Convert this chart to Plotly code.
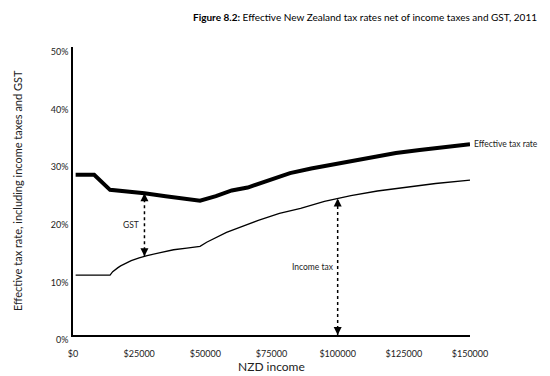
import numpy as np
import plotly.graph_objects as go

# ---- data ----
eff_income = [1000, 8000, 14000, 20000, 27000, 35000, 48000, 54000, 60000, 66000, 70000,
              76000, 82000, 90000, 97000, 105000, 112000, 122000, 131000, 140000, 150000]
eff_rate = [27.8, 27.8, 25.2, 25.0, 24.6, 24.1, 23.3, 24.1, 25.1, 25.6, 26.2,
            27.2, 28.1, 28.9, 29.5, 30.2, 30.9, 31.6, 32.1, 32.6, 33.1]

inc_income = [1000, 14000, 15000, 16000, 17000, 18000, 20000, 22000, 25000, 28000, 33000,
              38000, 43000, 48000, 50500, 53000, 58000, 63000, 70000, 78000, 86000, 95000,
              105000, 115000, 125000, 137000, 150000]
inc_rate = [10.4, 10.4, 11.0, 11.4, 11.7, 12.0, 12.5, 12.9, 13.4, 13.8, 14.3,
            14.8, 15.1, 15.4, 16.1, 16.7, 17.8, 18.7, 19.9, 21.1, 22.0, 23.2,
            24.2, 25.0, 25.6, 26.3, 26.9]

x_tickvals = [0, 25000, 50000, 75000, 100000, 125000, 150000]
x_ticktext = ["$0", "$25000", "$50000", "$75000", "$100000", "$125000", "$150000"]
y_tickvals = [0, 10, 20, 30, 40, 50]
y_ticktext = ["0%", "10%", "20%", "30%", "40%", "50%"]

gst_arrow_income = 27000
inc_arrow_income = 100000

FONT = "Lato"

fig = go.Figure()
fig.add_trace(go.Scatter(x=inc_income, y=inc_rate, mode="lines",
                         line=dict(color="black", width=1.3), showlegend=False))
fig.add_trace(go.Scatter(x=eff_income, y=eff_rate, mode="lines",
                         line=dict(color="black", width=4), showlegend=False))

# arrows derived from series
g_top = float(np.interp(gst_arrow_income, eff_income, eff_rate))
g_bot = float(np.interp(gst_arrow_income, inc_income, inc_rate))
i_top = float(np.interp(inc_arrow_income, inc_income, inc_rate))
i_bot = 0.0

for xv, top, bot in [(gst_arrow_income, g_top, g_bot), (inc_arrow_income, i_top, i_bot)]:
    fig.add_trace(go.Scatter(x=[xv, xv], y=[bot, top], mode="lines",
                             line=dict(color="black", width=1.5, dash="dot"),
                             showlegend=False))
    fig.add_annotation(x=xv, y=top, ax=0, ay=8, axref="pixel", ayref="pixel",
                       showarrow=True, arrowhead=2, arrowsize=1.6, arrowwidth=1,
                       arrowcolor="black", text="")
    fig.add_annotation(x=xv, y=bot, ax=0, ay=-8, axref="pixel", ayref="pixel",
                       showarrow=True, arrowhead=2, arrowsize=1.6, arrowwidth=1,
                       arrowcolor="black", text="")

fig.add_annotation(x=gst_arrow_income, y=(g_top + g_bot) / 2, text="GST", showarrow=False,
                   xanchor="right", xshift=-3, font=dict(family=FONT, size=8.5, color="#222"))
fig.add_annotation(x=inc_arrow_income, y=(i_top + i_bot) / 2, text="Income tax", showarrow=False,
                   xanchor="right", xshift=-2, font=dict(family=FONT, size=8.5, color="#222"))
fig.add_annotation(x=eff_income[-1], y=eff_rate[-1], text="Effective tax rate", showarrow=False,
                   xanchor="left", xshift=2, font=dict(family=FONT, size=8.5, color="#222"))

# axis titles
fig.add_annotation(xref="paper", yref="paper", x=0.5, y=-0.108, text="NZD income",
                   showarrow=False, xanchor="center", yanchor="middle",
                   font=dict(family=FONT, size=12, color="#222"))

# page body has an 8px margin, so the figure is offset by 8px; compensate
OFF = 8
L = 73 - OFF
PW = 397
fig.add_annotation(xref="paper", yref="paper", x=(0.5 - L) / PW, y=0.5,
                   text="Effective tax rate, including income taxes and GST",
                   showarrow=False, textangle=-90, xanchor="left", yanchor="middle",
                   font=dict(family=FONT, size=11, color="#222"))

fig.update_layout(
    width=550, height=376,
    margin=dict(l=L, r=550 - L - PW, t=47 - OFF, b=41 + OFF),
    paper_bgcolor="white", plot_bgcolor="white",
    title=dict(text="<b>Figure 8.2:</b> Effective New Zealand tax rates net of income taxes and GST, 2011",
               xref="container", yref="container", x=(537 - OFF) / 550, y=1 - (17 - OFF) / 376,
               xanchor="right", yanchor="middle",
               font=dict(family=FONT, size=10, color="black")),
    font=dict(family=FONT, color="#222"),
)
fig.update_xaxes(range=[0, 150000], tickvals=x_tickvals, ticktext=x_ticktext,
                 showgrid=False, zeroline=False, showline=True, linecolor="black", linewidth=1.5,
                 ticks="", ticklabelstandoff=9, tickfont=dict(family=FONT, size=9, color="#222"))
fig.update_yaxes(range=[0, 50], tickvals=y_tickvals, ticktext=y_ticktext,
                 showgrid=False, zeroline=False, showline=True, linecolor="black", linewidth=1.5,
                 ticks="", ticklabelstandoff=1, ticklabelshift=5,
                 tickfont=dict(family=FONT, size=9, color="#222"))

fig.write_html("out.html")
